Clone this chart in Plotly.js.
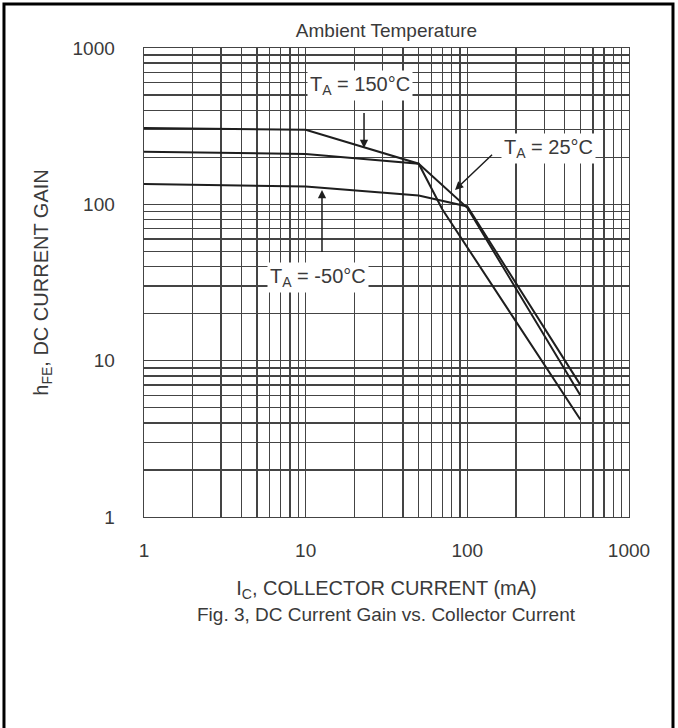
<!DOCTYPE html>
<html>
<head>
<meta charset="utf-8">
<script src="https://cdn.plot.ly/plotly-3.0.1.min.js"></script>
<style>
  html, body { margin: 0; padding: 0; background: #ffffff; }
  #chart { width: 678px; height: 728px; }
</style>
</head>
<body>
<div id="chart"></div>
<script>
// ---- Data ----
var ic150 = [1, 10, 50, 70, 500];
var hfe150 = [308, 300, 182, 93, 4.2];

var ic25 = [1, 10, 50, 100, 500];
var hfe25 = [217, 210, 182, 95, 6.0];

var icM50 = [1, 10, 50, 100, 500];
var hfeM50 = [135, 130, 114, 97, 7.0];

var xTickVals = [1, 10, 100, 1000];
var xTickText = ['1', '10', '100', '1000'];
var yTickVals = [1, 10, 100, 1000];
var yTickText = ['1', '10', '100', '1000'];

var labels = ['T<sub>A</sub> = 150°C', 'T<sub>A</sub> = 25°C', 'T<sub>A</sub> = -50°C'];

// ---- Styles ----
var FONT = 'Liberation Sans, Arial, Helvetica, sans-serif';
var TXT = '#3a3a3a';
var GRID = '#444444';
var CURVE = '#1e1e1e';

function curve(x, y, name) {
  return {
    x: x, y: y, name: name, type: 'scatter', mode: 'lines',
    line: { color: CURVE, width: 2 }, hoverinfo: 'x+y+name'
  };
}

var traces = [
  curve(ic150, hfe150, '150°C'),
  curve(ic25, hfe25, '25°C'),
  curve(icM50, hfeM50, '-50°C')
];

function axis(tv, tt) {
  return {
    type: 'log', range: [0, 3],
    tickvals: tv, ticktext: tt,
    showgrid: true, gridcolor: GRID, gridwidth: 1.4,
    minor: { dtick: 'D1', showgrid: true, gridcolor: GRID, gridwidth: 1.4, ticks: '' },
    showline: true, mirror: true, linecolor: GRID, linewidth: 1.4,
    ticks: '', zeroline: false,
    tickfont: { family: FONT, size: 19, color: TXT },
    fixedrange: true
  };
}

var xa = axis(xTickVals, xTickText);
xa.ticklabelstandoff = 16;
xa.title = { text: 'I<sub>C</sub>, COLLECTOR CURRENT (mA)', font: { family: FONT, size: 20, color: TXT }, standoff: 20 };

var ya = axis(yTickVals, yTickText);
ya.ticklabelstandoff = 24;
ya.title = { text: 'h<sub>FE</sub>, DC CURRENT GAIN', font: { family: FONT, size: 20, color: TXT }, standoff: 18 };

var labelFont = { family: FONT, size: 20, color: TXT };

var annotations = [
  // text labels
  { x: 1.336, y: 2.763, xref: 'x', yref: 'y', text: labels[0], showarrow: false,
    font: labelFont, bgcolor: '#ffffff', borderpad: 2 },
  { x: 2.505, y: 2.360, xref: 'x', yref: 'y', text: labels[1], showarrow: false,
    font: labelFont, bgcolor: '#ffffff', borderpad: 2 },
  { x: 1.076, y: 1.535, xref: 'x', yref: 'y', text: labels[2], showarrow: false,
    font: labelFont, bgcolor: '#ffffff', borderpad: 2 },
  // arrows
  { x: 1.361, y: 2.360, xref: 'x', yref: 'y', text: ' ', showarrow: true,
    ax: 0, ay: -45, arrowhead: 2, arrowsize: 1.1, arrowwidth: 1.5, arrowcolor: CURVE, standoff: 0 },
  { x: 1.924, y: 2.092, xref: 'x', yref: 'y', text: ' ', showarrow: true,
    ax: 40, ay: -38, arrowhead: 2, arrowsize: 1.1, arrowwidth: 1.5, arrowcolor: CURVE, standoff: 0 },
  { x: 1.101, y: 2.092, xref: 'x', yref: 'y', text: ' ', showarrow: true,
    ax: 0, ay: 72, arrowhead: 2, arrowsize: 1.1, arrowwidth: 1.5, arrowcolor: CURVE, standoff: 0 },
  // caption
  { x: 0.5, y: -0.207, xref: 'paper', yref: 'paper', xanchor: 'center', yanchor: 'middle',
    text: 'Fig. 3, DC Current Gain vs. Collector Current', showarrow: false,
    font: { family: FONT, size: 19, color: TXT } }
];

var layout = {
  width: 678, height: 728,
  margin: { l: 144, r: 49, t: 48, b: 211 },
  paper_bgcolor: '#ffffff', plot_bgcolor: '#ffffff',
  showlegend: false,
  title: { text: 'Ambient Temperature', font: { family: FONT, size: 19, color: TXT },
           xref: 'paper', x: 0.5, xanchor: 'center', yref: 'container', y: 1 - 30 / 728, yanchor: 'middle' },
  xaxis: xa, yaxis: ya,
  annotations: annotations,
  shapes: [
    { type: 'rect', xref: 'paper', yref: 'paper', x0: -0.2887, x1: 1.0907, y0: -0.46, y1: 1.0938,
      line: { color: '#000000', width: 3 }, fillcolor: 'rgba(0,0,0,0)', layer: 'above' }
  ]
};

Plotly.newPlot('chart', traces, layout, { displayModeBar: false, staticPlot: true });
</script>
</body>
</html>
